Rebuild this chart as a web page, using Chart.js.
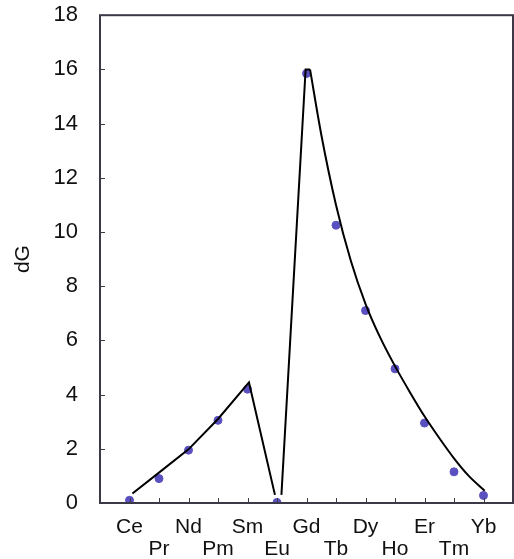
<!DOCTYPE html>
<html>
<head>
<meta charset="utf-8">
<title>dG</title>
<script src="https://cdn.jsdelivr.net/npm/chart.js@4/dist/chart.umd.min.js"></script>
<style>
  html, body { margin: 0; padding: 0; background: #ffffff; }
  #wrap { width: 514px; height: 559px; }
</style>
</head>
<body>
<div id="wrap"><canvas id="dgChart" width="514" height="559"></canvas></div>
<script>
// Lanthanide series, placed at x = 1..13 on a 0..14 linear axis
const elements = ['Ce', 'Pr', 'Nd', 'Pm', 'Sm', 'Eu', 'Gd', 'Tb', 'Dy', 'Ho', 'Er', 'Tm', 'Yb'];
const elementPos = [1, 2, 3, 4, 5, 6, 7, 8, 9, 10, 11, 12, 13];
const measuredDG = [0.1, 0.9, 1.95, 3.05, 4.2, 0.02, 15.85, 10.25, 7.1, 4.95, 2.95, 1.15, 0.28];

// Calculated curve, three pieces
const lightCurveX = [1.1, 2, 3, 4, 5.05, 5.93];
const lightCurveY = [0.35, 1.12, 1.98, 3.1, 4.45, 0.3];
const riseCurveX = [6.15, 6.97, 7.12];
const riseCurveY = [0.3, 16.0, 16.0];
const heavyCurveX = [7.12, 7.5, 8, 8.5, 9, 9.5, 10, 10.5, 11, 11.5, 12, 12.5, 13.04];
const heavyCurveY = [16.0, 13.6, 11.0, 8.95, 7.35, 6.1, 5.05, 4.1, 3.2, 2.4, 1.65, 1.0, 0.45];

const yTicks = [0, 2, 4, 6, 8, 10, 12, 14, 16, 18];

const DOT_COLOR = '#5a50c0';
const FRAME_COLOR = '#3b3946';
const FONT = 'Liberation Sans, Arial, Helvetica, sans-serif';

const toPoints = (xs, ys) => xs.map((x, i) => ({ x, y: ys[i] }));

// Frame around the plot plus short inward tick marks
const framePlugin = {
  id: 'frame',
  afterDatasetsDraw(chart) {
    const { ctx, chartArea: a, scales } = chart;
    ctx.save();
    ctx.strokeStyle = FRAME_COLOR;
    ctx.lineWidth = 1;
    elementPos.forEach(v => {
      const px = Math.round(scales.x.getPixelForValue(v)) + 0.5;
      ctx.beginPath();
      ctx.moveTo(px, a.bottom);
      ctx.lineTo(px, a.bottom - 5);
      ctx.stroke();
    });
    yTicks.forEach(v => {
      const py = Math.round(scales.y.getPixelForValue(v)) + 0.5;
      ctx.beginPath();
      ctx.moveTo(a.left, py);
      ctx.lineTo(a.left + 5, py);
      ctx.stroke();
    });
    ctx.lineWidth = 2;
    ctx.strokeRect(a.left, a.top, a.right - a.left, a.bottom - a.top);
    ctx.restore();
  }
};

const curveStyle = {
  type: 'line',
  borderColor: '#000000',
  borderWidth: 2,
  pointRadius: 0,
  fill: false,
  tension: 0
};

// invisible outer tick marks only used to space the labels from the axis
const spacerGrid = len => ({
  display: true,
  color: 'rgba(0,0,0,0)',
  drawOnChartArea: false,
  drawTicks: true,
  tickLength: len
});

new Chart(document.getElementById('dgChart'), {
  type: 'scatter',
  data: {
    datasets: [
      Object.assign({ label: 'light', data: toPoints(lightCurveX, lightCurveY) }, curveStyle),
      Object.assign({ label: 'rise', data: toPoints(riseCurveX, riseCurveY) }, curveStyle),
      Object.assign({ label: 'heavy', data: toPoints(heavyCurveX, heavyCurveY), cubicInterpolationMode: 'monotone' }, curveStyle),
      {
        label: 'dG',
        data: toPoints(elementPos, measuredDG),
        backgroundColor: DOT_COLOR,
        borderColor: DOT_COLOR,
        pointRadius: 4,
        showLine: false
      }
    ]
  },
  options: {
    responsive: false,
    animation: false,
    layout: { autoPadding: false, padding: { top: 0, right: 1, left: 0, bottom: 0 } },
    plugins: {
      legend: { display: false },
      tooltip: { enabled: false }
    },
    scales: {
      x: {
        type: 'linear',
        min: 0,
        max: 14,
        afterBuildTicks: scale => {
          scale.ticks = elementPos.map(v => ({ value: v }));
        },
        afterFit: scale => {
          scale.height = 56;
          scale.paddingLeft = 0;
          scale.paddingRight = 0;
        },
        grid: spacerGrid(11),
        border: { display: false },
        ticks: {
          autoSkip: false,
          maxRotation: 0,
          padding: 2,
          color: '#111111',
          font: { family: FONT, size: 21, lineHeight: 1.05 },
          // alternate elements drop to a second row
          callback: value => {
            const i = elementPos.indexOf(value);
            if (i < 0) return '';
            return i % 2 === 0 ? [elements[i]] : ['', elements[i]];
          }
        }
      },
      y: {
        min: 0,
        max: 18,
        afterFit: scale => { scale.width = 100; },
        grid: spacerGrid(20),
        border: { display: false },
        ticks: {
          stepSize: 2,
          padding: 2,
          color: '#111111',
          font: { family: FONT, size: 22 }
        },
        title: {
          display: true,
          text: 'dG',
          color: '#111111',
          padding: { top: 11, bottom: 0 },
          font: { family: FONT, size: 21 }
        }
      }
    }
  },
  plugins: [framePlugin]
});
</script>
</body>
</html>
